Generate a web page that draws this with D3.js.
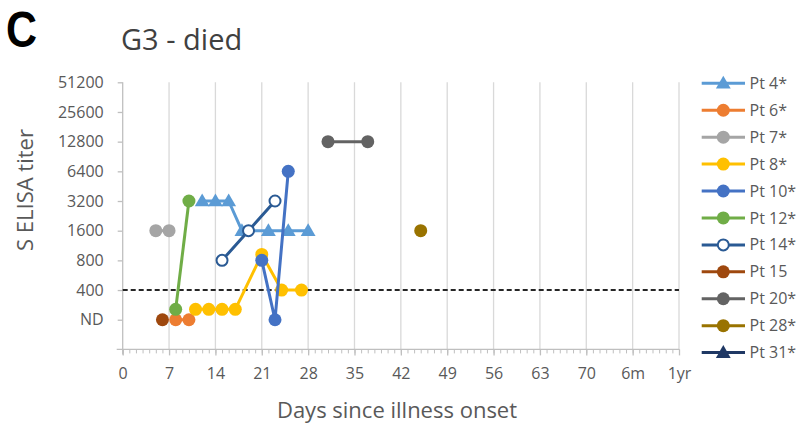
<!DOCTYPE html>
<html>
<head>
<meta charset="utf-8">
<script src="https://cdn.jsdelivr.net/npm/d3@7"></script>
<style>
  body { margin: 0; background: #fff; }
  svg text { font-family: "Open Sans", "Liberation Sans", sans-serif; }
</style>
</head>
<body>
<svg id="chart" width="799" height="426"></svg>
<script>
"use strict"

// data (titer 200 = ND, 255 = detected but below 400)
const ND = 200;
const xTickDays = [0, 7, 14, 21, 28, 35, 42, 49, 56, 63, 70, 77, 84];
const xTickLabels = ["0", "7", "14", "21", "28", "35", "42", "49", "56", "63", "70", "6m", "1yr"];
const yTickValues = [200, 400, 800, 1600, 3200, 6400, 12800, 25600, 51200];
const yTickLabels = ["ND", "400", "800", "1600", "3200", "6400", "12800", "25600", "51200"];
const cutoff = 400;

const seriesNames = ["Pt 4*", "Pt 6*", "Pt 7*", "Pt 8*", "Pt 10*", "Pt 12*", "Pt 14*", "Pt 15", "Pt 20*", "Pt 28*", "Pt 31*"];
const seriesColors = ["#5B9BD5", "#ED7D31", "#A5A5A5", "#FFC000", "#4472C4", "#70AD47", "#2A5A94", "#9E480E", "#636363", "#997300", "#1F3864"];
const seriesMarkers = ["triangle", "circle", "circle", "circle", "circle", "circle", "open", "circle", "circle", "circle", "triangle"];

const pt4Days = [12, 14, 16, 18, 22, 25, 28];
const pt4Titers = [3200, 3200, 3200, 1600, 1600, 1600, 1600];
const pt6Days = [8, 10];
const pt6Titers = [ND, ND];
const pt7Days = [5, 7];
const pt7Titers = [1600, 1600];
const pt8Days = [11, 13, 15, 17, 21, 24, 27];
const pt8Titers = [255, 255, 255, 255, 920, 400, 400];
const pt10Days = [21, 23, 25];
const pt10Titers = [800, ND, 6400];
const pt12Days = [8, 10];
const pt12Titers = [255, 3200];
const pt14Days = [15, 19, 23];
const pt14Titers = [800, 1600, 3200];
const pt15Days = [6];
const pt15Titers = [ND];
const pt20Days = [31, 37];
const pt20Titers = [12800, 12800];
const pt28Days = [45];
const pt28Titers = [1600];
const pt31Days = [];
const pt31Titers = [];

const allDays = [pt4Days, pt6Days, pt7Days, pt8Days, pt10Days, pt12Days, pt14Days, pt15Days, pt20Days, pt28Days, pt31Days];
const allTiters = [pt4Titers, pt6Titers, pt7Titers, pt8Titers, pt10Titers, pt12Titers, pt14Titers, pt15Titers, pt20Titers, pt28Titers, pt31Titers];

let series = seriesNames.map(function (name, i) {
    return {
        name: name,
        color: seriesColors[i],
        marker: seriesMarkers[i],
        points: allDays[i].map(function (d, j) { return { day: d, titer: allTiters[i][j] }; })
    };
});

let svg = d3.select("#chart");

let x = d3.scaleLinear().domain([0, 84]).range([122.7, 679]);
let y = d3.scaleLog().base(2).domain([100, 51200]).range([349.4, 82.3]);

let gridColor = "#d9d9d9";
let axisColor = "#bfbfbf";
let labelColor = "#595959";

// vertical gridlines
svg.append("g")
    .selectAll("line")
    .data(xTickDays.slice(1))
    .enter().append("line")
    .attr("x1", function (d) { return x(d); })
    .attr("x2", function (d) { return x(d); })
    .attr("y1", y(51200))
    .attr("y2", y(100))
    .attr("stroke", gridColor)
    .attr("stroke-width", 1.3);

// y axis
let yAxis = d3.axisLeft(y)
    .tickValues(yTickValues)
    .tickFormat(function (d, i) { return yTickLabels[i]; })
    .tickSize(5)
    .tickPadding(14);

let gy = svg.append("g")
    .attr("transform", "translate(" + x(0) + ",0)")
    .call(yAxis);
gy.select(".domain").remove();
gy.append("line")
    .attr("y1", y(51200)).attr("y2", y(100) + 5)
    .attr("stroke", axisColor).attr("stroke-width", 1.3);
gy.selectAll(".tick line").attr("stroke", axisColor).attr("stroke-width", 1.3);
gy.selectAll(".tick text")
    .attr("fill", labelColor)
    .attr("font-size", 16)
    .style("font-family", "'Open Sans', sans-serif");

// x axis: major ticks + daily minor ticks
let xMinor = d3.axisBottom(x).tickValues(d3.range(0, 85, 1)).tickSize(4).tickFormat("");
let gxm = svg.append("g")
    .attr("transform", "translate(0," + y(100) + ")")
    .call(xMinor);
gxm.select(".domain").remove();
gxm.selectAll(".tick line").attr("stroke", axisColor).attr("stroke-width", 1);

let xAxis = d3.axisBottom(x)
    .tickValues(xTickDays)
    .tickFormat(function (d, i) { return xTickLabels[i]; })
    .tickSize(6)
    .tickPadding(12);
let gx = svg.append("g")
    .attr("transform", "translate(0," + y(100) + ")")
    .call(xAxis);
gx.select(".domain").remove();
gx.append("line")
    .attr("x1", x(0) - 6).attr("x2", x(84))
    .attr("stroke", axisColor).attr("stroke-width", 1.3);
gx.selectAll(".tick line").attr("stroke", axisColor).attr("stroke-width", 1.3);
gx.selectAll(".tick text")
    .attr("fill", labelColor)
    .attr("font-size", 16)
    .style("font-family", "'Open Sans', sans-serif");

// cutoff line
svg.append("line")
    .attr("x1", x(0)).attr("x2", x(84))
    .attr("y1", y(cutoff)).attr("y2", y(cutoff))
    .attr("stroke", "#262626")
    .attr("stroke-width", 2)
    .attr("stroke-dasharray", "5,3");

// markers
let triangle = d3.symbol().type(d3.symbolTriangle).size(95);

function drawMarker(g, s, cx, cy) {
    if (s.marker === "triangle") {
        g.append("path")
            .attr("d", triangle)
            .attr("transform", "translate(" + cx + "," + (cy + 1) + ")")
            .attr("fill", s.color);
    } else if (s.marker === "open") {
        g.append("circle")
            .attr("cx", cx).attr("cy", cy).attr("r", 5.5)
            .attr("fill", "#fff")
            .attr("stroke", s.color)
            .attr("stroke-width", 2);
    } else {
        g.append("circle")
            .attr("cx", cx).attr("cy", cy).attr("r", 6.5)
            .attr("fill", s.color);
    }
}

let line = d3.line()
    .x(function (d) { return x(d.day); })
    .y(function (d) { return y(d.titer); });

let plot = svg.append("g");
series.forEach(function (s) {
    let g = plot.append("g");
    if (s.points.length > 1) {
        g.append("path")
            .datum(s.points)
            .attr("d", line)
            .attr("fill", "none")
            .attr("stroke", s.color)
            .attr("stroke-width", 3)
            .attr("stroke-linejoin", "round");
    }
    s.points.forEach(function (p) {
        drawMarker(g, s, x(p.day), y(p.titer));
    });
});

// legend
let legend = svg.append("g");
series.forEach(function (s, i) {
    let ly = 83.3 + i * 26.93;
    let g = legend.append("g");
    g.append("line")
        .attr("x1", 701.7).attr("x2", 745)
        .attr("y1", ly).attr("y2", ly)
        .attr("stroke", s.color)
        .attr("stroke-width", 3);
    drawMarker(g, s, 723.3, ly);
    g.append("text")
        .attr("x", 749.5)
        .attr("y", ly)
        .attr("dy", "0.35em")
        .attr("font-size", 16)
        .attr("fill", labelColor)
        .text(s.name);
});

// titles
svg.append("text")
    .attr("transform", "translate(6,47) scale(0.86,1)")
    .attr("font-size", 50)
    .attr("font-weight", 700)
    .attr("fill", "#000")
    .style("font-family", "'Liberation Sans', Arial, sans-serif")
    .text("C");

svg.append("text")
    .attr("x", 121).attr("y", 50)
    .attr("font-size", 29)
    .attr("fill", "#404040")
    .text("G3 - died");

svg.append("text")
    .attr("x", 397).attr("y", 418)
    .attr("text-anchor", "middle")
    .attr("font-size", 22)
    .attr("fill", labelColor)
    .text("Days since illness onset");

svg.append("text")
    .attr("transform", "translate(33,190) rotate(-90)")
    .attr("text-anchor", "middle")
    .attr("font-size", 22)
    .attr("fill", labelColor)
    .text("S ELISA titer");
</script>
</body>
</html>
